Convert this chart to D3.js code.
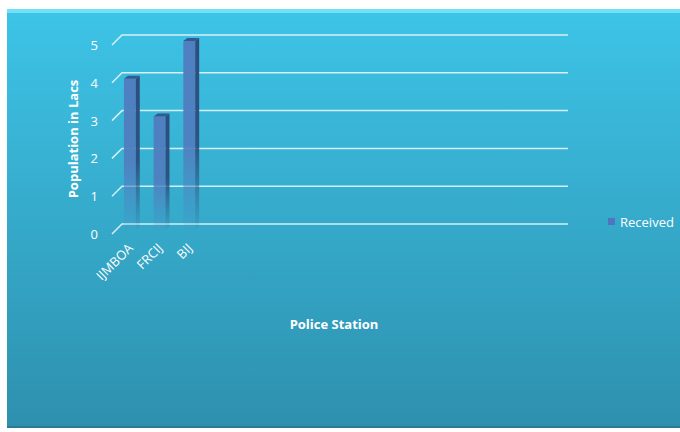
<!DOCTYPE html>
<html>
<head>
<meta charset="utf-8">
<script src="https://cdn.jsdelivr.net/npm/d3@7"></script>
<style>
  body { margin: 0; background: #fff; }
  text { font-family: "Open Sans", "Liberation Sans", sans-serif; fill: #fff; }
</style>
</head>
<body>
<div id="chart"></div>
<script>
const stations = ["IJMBOA", "FRCIJ", "BIJ"];
const received = [4, 3, 5];
const yTicks = [0, 1, 2, 3, 4, 5];
const seriesName = "Received";

const width = 680, height = 432;
const depth = 10;      // back-plane offset of the pseudo 3D floor
const barSide = 4;     // visible side of each bar

const svg = d3.select("#chart").append("svg")
    .attr("width", width)
    .attr("height", height);

const defs = svg.append("defs");

const bg = defs.append("linearGradient").attr("id", "bg")
    .attr("x1", 0).attr("y1", 0).attr("x2", 0).attr("y2", 1);
bg.append("stop").attr("offset", "0%").attr("stop-color", "#3dc4e7");
bg.append("stop").attr("offset", "100%").attr("stop-color", "#2e90ae");

const fade = (id, color) => {
    const g = defs.append("linearGradient").attr("id", id)
        .attr("x1", 0).attr("y1", 0).attr("x2", 0).attr("y2", 1);
    g.append("stop").attr("offset", "0%").attr("stop-color", color).attr("stop-opacity", 1);
    g.append("stop").attr("offset", "55%").attr("stop-color", color).attr("stop-opacity", 0.95);
    g.append("stop").attr("offset", "100%").attr("stop-color", color).attr("stop-opacity", 0.05);
};
fade("barFront", "#4f7fc0");
fade("barSide", "#2c4e7e");

// panel
svg.append("rect")
    .attr("x", 7).attr("y", 9)
    .attr("width", width - 7).attr("height", 419)
    .attr("fill", "url(#bg)");
svg.append("rect")
    .attr("x", 7).attr("y", 9)
    .attr("width", width - 7).attr("height", 4)
    .attr("fill", "#6fe2f7");
svg.append("rect")
    .attr("x", 7).attr("y", 426)
    .attr("width", width - 7).attr("height", 2)
    .attr("fill", "#2a7a93");

// scales: back plane gridlines
const y = d3.scaleLinear()
    .domain([0, 5])
    .range([224, 35]);

const x = d3.scaleBand()
    .domain(stations)
    .range([115, 115 + 29.7 * stations.length])
    .paddingInner(0.6)
    .paddingOuter(0.3);

const gridLeft = 122, gridRight = 568;

const grid = svg.append("g");
grid.selectAll("path")
    .data(yTicks)
    .enter().append("path")
    .attr("d", d => `M${gridLeft - depth},${y(d) + depth}L${gridLeft},${y(d)}H${gridRight}`)
    .attr("fill", "none")
    .attr("stroke", "#e4f6fb")
    .attr("stroke-width", 1.5)
    .attr("opacity", 0.9);

const yAxis = svg.append("g")
    .attr("transform", `translate(98,${depth})`)
    .call(d3.axisLeft(y).tickValues(yTicks).tickFormat(d3.format("d")).tickSize(0).tickPadding(0));
yAxis.select(".domain").remove();
yAxis.selectAll("text")
    .attr("font-size", 13)
    .attr("fill", "#fff")
    .attr("dy", "0.35em");

// bars (mid depth)
const mid = depth / 2 + 1;
const bars = svg.append("g")
    .selectAll("g")
    .data(stations.map((s, i) => ({ name: s, value: received[i] })))
    .enter().append("g")
    .attr("transform", d => `translate(${x(d.name)},0)`);

bars.append("rect")
    .attr("x", 0)
    .attr("y", d => y(d.value) + mid)
    .attr("width", x.bandwidth())
    .attr("height", d => y(0) - y(d.value))
    .attr("fill", "url(#barFront)");

bars.append("path")
    .attr("d", d => {
        const w = x.bandwidth(), t = y(d.value) + mid, b = y(0) + mid;
        return `M${w},${t}L${w + barSide},${t - 3}L${w + barSide},${b - 3}L${w},${b}Z`;
    })
    .attr("fill", "url(#barSide)");

bars.append("path")
    .attr("d", d => {
        const w = x.bandwidth(), t = y(d.value) + mid;
        return `M0,${t}L${barSide},${t - 3}L${w + barSide},${t - 3}L${w},${t}Z`;
    })
    .attr("fill", "#35598d");

// category labels
svg.append("g")
    .selectAll("text")
    .data(stations)
    .enter().append("text")
    .attr("transform", d => `translate(${x(d) + x.bandwidth() / 2 + 4},249) rotate(-45)`)
    .attr("text-anchor", "end")
    .attr("font-size", 13)
    .text(d => d);

// axis titles
svg.append("text")
    .attr("transform", "translate(78,139) rotate(-90)")
    .attr("text-anchor", "middle")
    .attr("font-size", 13)
    .attr("font-weight", "bold")
    .text("Population in Lacs");

svg.append("text")
    .attr("x", 334).attr("y", 329)
    .attr("text-anchor", "middle")
    .attr("font-size", 13)
    .attr("font-weight", "bold")
    .text("Police Station");

// legend
const legend = svg.append("g").attr("transform", "translate(608,218)");
legend.append("rect")
    .attr("width", 7).attr("height", 7)
    .attr("fill", "#4f74c0");
legend.append("text")
    .attr("x", 12).attr("y", 4)
    .attr("dy", "0.35em")
    .attr("font-size", 13)
    .text(seriesName);
</script>
</body>
</html>
